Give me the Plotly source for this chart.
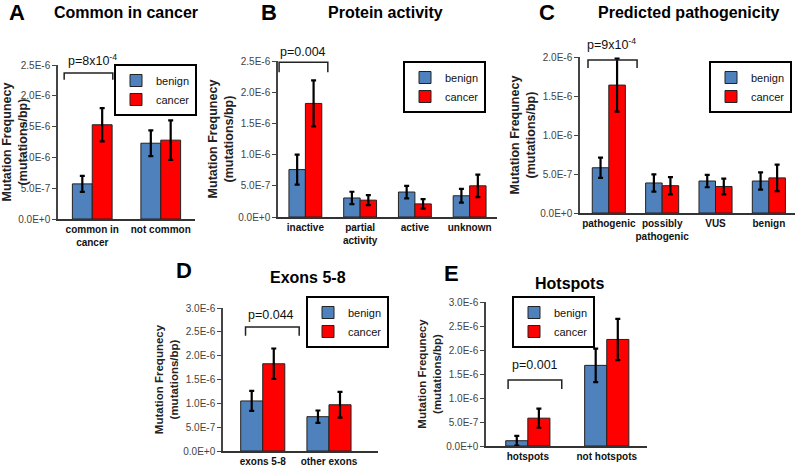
import plotly.graph_objects as go

W, H = 800, 467

# ---------------- data ----------------
a_cats = ["common in<br>cancer", "not common"]
a_benign = [5.7e-7, 1.23e-6]
a_benign_err = [1.3e-7, 2.1e-7]
a_cancer = [1.53e-6, 1.28e-6]
a_cancer_err = [2.7e-7, 3.2e-7]

b_cats = ["inactive", "partial<br>activity", "active", "unknown"]
b_benign = [7.6e-7, 3.05e-7, 4.0e-7, 3.4e-7]
b_benign_err = [2.4e-7, 1.0e-7, 1.0e-7, 1.1e-7]
b_cancer = [1.82e-6, 2.7e-7, 2.1e-7, 5.0e-7]
b_cancer_err = [3.7e-7, 8e-8, 7.5e-8, 1.8e-7]

c_cats = ["pathogenic", "possibly<br>pathogenic", "VUS", "benign"]
c_benign = [5.8e-7, 3.85e-7, 4.1e-7, 4.1e-7]
c_benign_err = [1.3e-7, 1.1e-7, 8e-8, 1.1e-7]
c_cancer = [1.64e-6, 3.5e-7, 3.4e-7, 4.5e-7]
c_cancer_err = [3.4e-7, 1.1e-7, 1.0e-7, 1.7e-7]

d_cats = ["exons 5-8", "other exons"]
d_benign = [1.05e-6, 7.2e-7]
d_benign_err = [2.1e-7, 1.3e-7]
d_cancer = [1.83e-6, 9.7e-7]
d_cancer_err = [3.2e-7, 2.7e-7]

e_cats = ["hotspots", "not hotspots"]
e_benign = [1.1e-7, 1.68e-6]
e_benign_err = [1.0e-7, 3.5e-7]
e_cancer = [5.8e-7, 2.22e-6]
e_cancer_err = [2.0e-7, 4.3e-7]

ticks_25 = [0, 5e-7, 1e-6, 1.5e-6, 2e-6, 2.5e-6]
ticks_20 = [0, 5e-7, 1e-6, 1.5e-6, 2e-6]
ticks_30 = [0, 5e-7, 1e-6, 1.5e-6, 2e-6, 2.5e-6, 3e-6]
tick_text = ["0.0E+0", "5.0E-7", "1.0E-6", "1.5E-6", "2.0E-6", "2.5E-6", "3.0E-6"]

letters = ["A", "B", "C", "D", "E"]
titles = ["Common in cancer", "Protein activity", "Predicted pathogenicity", "Exons 5-8", "Hotspots"]
pvals = ["p=8x10<sup>-4</sup>", "p=0.004", "p=9x10<sup>-4</sup>", "p=0.044", "p=0.001"]

BLUE = "#4F81BD"
RED = "#FF0000"
FONT = "Arial, Liberation Sans, Helvetica, sans-serif"

# ---------------- layout per panel (pixel boxes) ----------------
panels = [
    dict(cats=a_cats, b=a_benign, be=a_benign_err, c=a_cancer, ce=a_cancer_err,
         px=(58, 195), py=(65, 219), xr=[-0.5, 1.5], yr=[0, 2.5e-6], ticks=ticks_25, w=0.29,
         br=(-0.41, 0.30, 2.26e-6, 2.37e-6), pt=2.58e-6, ptx=0.0,
         leg=(197, 64, "right"), let=(17, 13), tit=(126, 13), yts=12.5),
    dict(cats=b_cats, b=b_benign, be=b_benign_err, c=b_cancer, ce=b_cancer_err,
         px=(278, 497), py=(61, 217), xr=[-0.5, 3.5], yr=[0, 2.5e-6], ticks=ticks_25, w=0.30,
         br=(-0.48, 0.41, 2.32e-6, 2.48e-6), pt=2.64e-6, ptx=-0.05,
         leg=(486, 61, "right"), let=(269, 13), tit=(385, 13), yts=12.5),
    dict(cats=c_cats, b=c_benign, be=c_benign_err, c=c_cancer, ce=c_cancer_err,
         px=(580, 795), py=(57, 213), xr=[-0.54, 3.49], yr=[0, 2e-6], ticks=ticks_20, w=0.31,
         br=(-0.39, 0.53, 1.86e-6, 1.96e-6), pt=2.17e-6, ptx=0.05,
         leg=(792, 61, "right"), let=(547, 13), tit=(688, 13), yts=12.5),
    dict(cats=d_cats, b=d_benign, be=d_benign_err, c=d_cancer, ce=d_cancer_err,
         px=(223, 378), py=(308, 451), xr=[-0.6, 1.74], yr=[0, 3e-6], ticks=ticks_30, w=0.333,
         br=(-0.26, 0.55, 2.42e-6, 2.6e-6), pt=2.86e-6, ptx=0.12,
         leg=(389, 296, "right"), let=(184, 270), tit=(308, 277), yts=11.5),
    dict(cats=e_cats, b=e_benign, be=e_benign_err, c=e_cancer, ce=e_cancer_err,
         px=(486, 647), py=(302, 446), xr=[-0.53, 1.51], yr=[0, 3e-6], ticks=ticks_30, w=0.28,
         br=(-0.25, 0.43, 1.19e-6, 1.375e-6), pt=1.69e-6, ptx=0.09,
         leg=(512, 296, "left"), let=(452, 273), tit=(569, 283), yts=11.5),
]

fig = go.Figure()
layout = dict(width=W, height=H, margin=dict(l=0, r=0, t=0, b=0, pad=0, autoexpand=False),
              paper_bgcolor="white", plot_bgcolor="white", barmode="overlay",
              font=dict(family=FONT, color="#222"), shapes=[], annotations=[])

for i, p in enumerate(panels):
    n = i + 1
    xa = "x" if n == 1 else f"x{n}"
    ya = "y" if n == 1 else f"y{n}"
    lg = "legend" if n == 1 else f"legend{n}"
    xs = list(range(len(p["cats"])))
    w = p["w"]
    fig.add_trace(go.Bar(
        x=xs, y=p["b"], name="benign", width=w, offset=-w, xaxis=xa, yaxis=ya, legend=lg,
        marker=dict(color=BLUE, line=dict(color="#222", width=1)),
        error_y=dict(type="data", array=p["be"], color="black", thickness=2.2, width=2.5)))
    fig.add_trace(go.Bar(
        x=xs, y=p["c"], name="cancer", width=w, offset=0, xaxis=xa, yaxis=ya, legend=lg,
        marker=dict(color=RED, line=dict(color="#222", width=1)),
        error_y=dict(type="data", array=p["ce"], color="black", thickness=2.2, width=2.5)))

    xkey = "xaxis" if n == 1 else f"xaxis{n}"
    ykey = "yaxis" if n == 1 else f"yaxis{n}"
    layout[xkey] = dict(domain=[p["px"][0] / W, p["px"][1] / W], range=p["xr"], anchor=ya,
                        tickvals=xs, ticktext=[f"<b>{c}</b>" for c in p["cats"]],
                        showline=True, linecolor="#333", linewidth=1.5, ticks="",
                        tickangle=0, automargin=False,
                        showgrid=False, zeroline=False, fixedrange=True,
                        tickfont=dict(size=10, color="#111", family=FONT))
    layout[ykey] = dict(domain=[1 - p["py"][1] / H, 1 - p["py"][0] / H], range=p["yr"], anchor=xa,
                        tickvals=p["ticks"], ticktext=tick_text[:len(p["ticks"])],
                        showline=True, linecolor="#444", linewidth=1.5, ticks="outside",
                        ticklen=4, tickcolor="#444", showgrid=False, zeroline=False,
                        automargin=False, fixedrange=True,
                        tickfont=dict(size=10, color="#444", family=FONT),
                        title=dict(text="<b>Mutation Frequnecy<br>(mutations/bp)</b>",
                                   font=dict(size=p["yts"], color="#222"), standoff=2))
    lx, ly, anc = p["leg"]
    layout[lg] = dict(x=lx / W, y=1 - ly / H, xanchor=anc, yanchor="top",
                      bordercolor="black", borderwidth=2, bgcolor="white",
                      font=dict(size=11, color="#111"), itemwidth=30, tracegroupgap=0,
                      itemclick=False)

    # significance bracket
    x0, x1, yl, yt = p["br"]
    layout["shapes"].append(dict(type="path", xref=xa, yref=ya,
                                 path=f"M {x0},{yl} L {x0},{yt} L {x1},{yt} L {x1},{yl}",
                                 line=dict(color="#222", width=1.5)))
    layout["annotations"].append(dict(xref=xa, yref=f"{ya} domain", x=p["ptx"],
                                      y=p["pt"] / p["yr"][1], text=pvals[i],
                                      showarrow=False, font=dict(size=12.5, color="#111"),
                                      xanchor="center", yanchor="middle"))
    # panel letter and title
    layout["annotations"].append(dict(xref="paper", yref="paper", x=p["let"][0] / W,
                                      y=1 - p["let"][1] / H, text=f"<b>{letters[i]}</b>",
                                      showarrow=False, font=dict(size=22, color="black"),
                                      xanchor="center", yanchor="middle"))
    layout["annotations"].append(dict(xref="paper", yref="paper", x=p["tit"][0] / W,
                                      y=1 - p["tit"][1] / H, text=f"<b>{titles[i]}</b>",
                                      showarrow=False, font=dict(size=16, color="black"),
                                      xanchor="center", yanchor="middle"))

fig.update_layout(**layout)
fig.write_html("out.html", config={"displayModeBar": False},
               post_script="document.body.style.margin='0px';document.body.style.overflow='hidden';")
